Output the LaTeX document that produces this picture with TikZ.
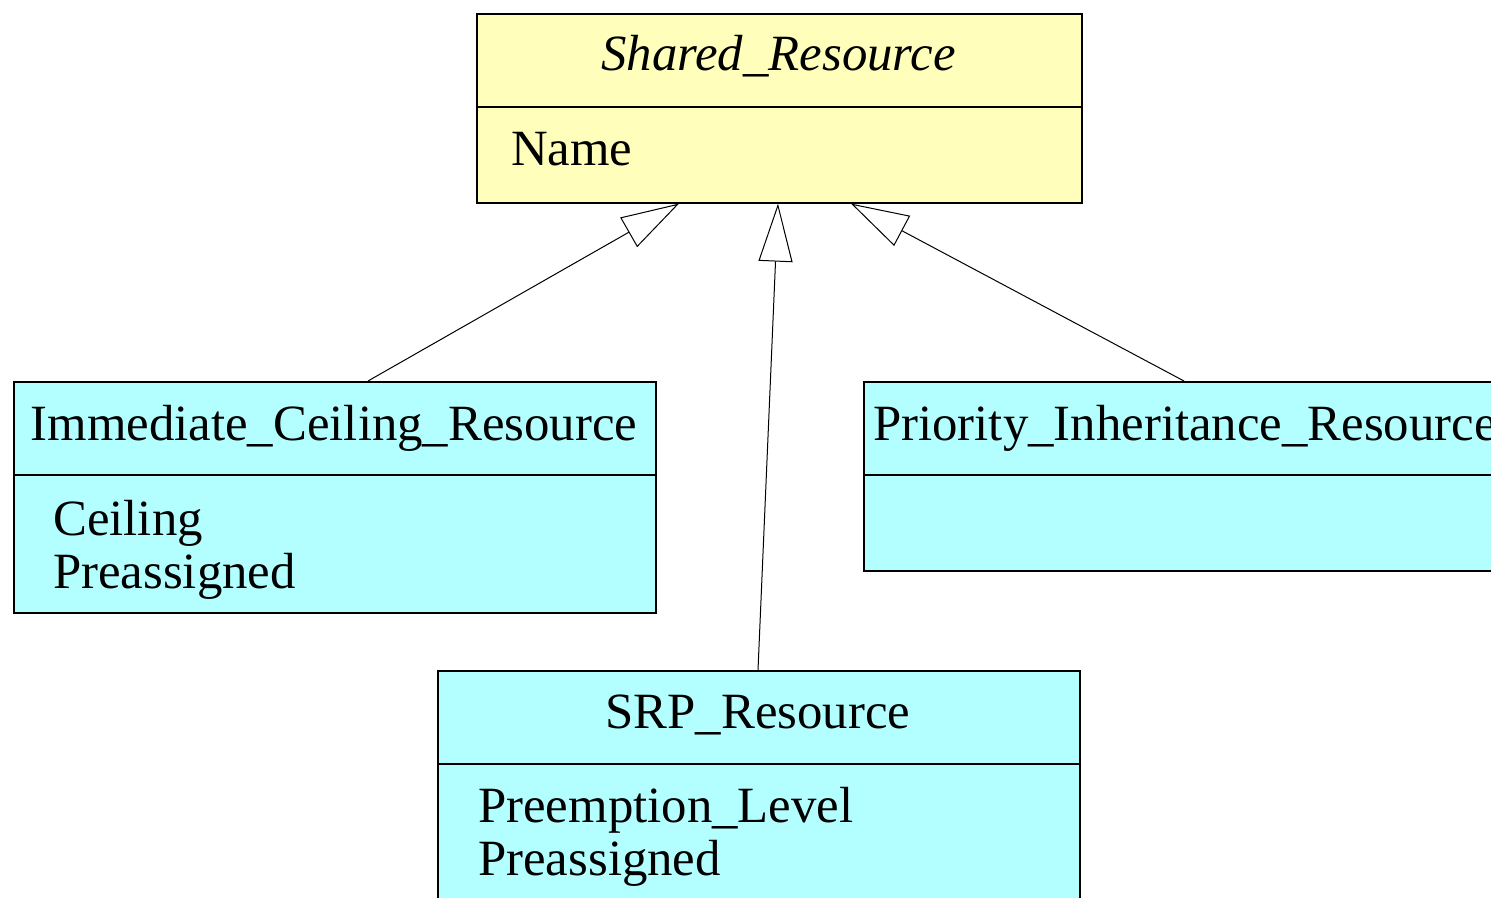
\documentclass[tikz,border=0pt]{standalone}
\usepackage{fontspec}
\setmainfont{Liberation Serif}
\usetikzlibrary{arrows.meta}
\definecolor{clsyellow}{RGB}{255,255,187}
\definecolor{clscyan}{RGB}{179,255,255}
\tikzset{
  classbox/.style={draw=black, line width=1.6pt, rectangle, inner sep=0pt, anchor=north west},
  divider/.style={draw=black, line width=1.6pt},
  label/.style={inner sep=0pt, anchor=base, font=\fontsize{50.8}{53}\selectfont},
  attr/.style={label, anchor=base west, align=left},
  inherit/.style={draw=black, line width=1pt, -{Triangle[open, length=58pt, width=34pt, fill=white]}}
}
\begin{document}
\begin{tikzpicture}[x=1pt, y=-1pt]
  \clip (0,0) rectangle (1491,897);
  \fill[white] (0,0) rectangle (1491,897);

  % Shared_Resource (abstract base class)
  \node[classbox, fill=clsyellow, minimum width=605pt, minimum height=189pt] (sr) at (476,13) {};
  \draw[divider] (476,107) -- (1081,107);
  \node[label, font=\fontsize{50.8}{53}\selectfont\itshape] (srt) at (778.5,70) {Shared\_Resource};
  \node[attr] (sra) at (511,165) {Name};

  % Immediate_Ceiling_Resource
  \node[classbox, fill=clscyan, minimum width=642pt, minimum height=231pt] (icr) at (13,381) {};
  \draw[divider] (13,475) -- (655,475);
  \node[label] (icrt) at (334,440) {Immediate\_Ceiling\_Resource};
  \node[attr] (icra1) at (53,535) {Ceiling};
  \node[attr] (icra2) at (53,588) {Preassigned};

  % Priority_Inheritance_Resource (continues past the right edge)
  \node[classbox, fill=clscyan, minimum width=660pt, minimum height=189pt] (pir) at (863,381) {};
  \draw[divider] (863,475) -- (1523,475);
  \node[label, anchor=base west] (pirt) at (873,440) {Priority\_Inheritance\_Resource};

  % SRP_Resource (continues past the bottom edge)
  \node[classbox, fill=clscyan, minimum width=642pt, minimum height=260pt] (srp) at (437,670) {};
  \draw[divider] (437,764) -- (1079,764);
  \node[label] (srpt) at (758,728) {SRP\_Resource};
  \node[attr] (srpa1) at (478,822) {Preemption\_Level};
  \node[attr] (srpa2) at (478,875) {Preassigned};

  % generalisation arrows
  \draw[inherit] ([xshift=355pt]icr.north west) -- ([xshift=203pt]sr.south west);
  \draw[inherit] ([xshift=321pt]srp.north west) -- ([xshift=302pt]sr.south west);
  \draw[inherit] ([xshift=321pt]pir.north west) -- ([xshift=375pt]sr.south west);
\end{tikzpicture}
\end{document}
